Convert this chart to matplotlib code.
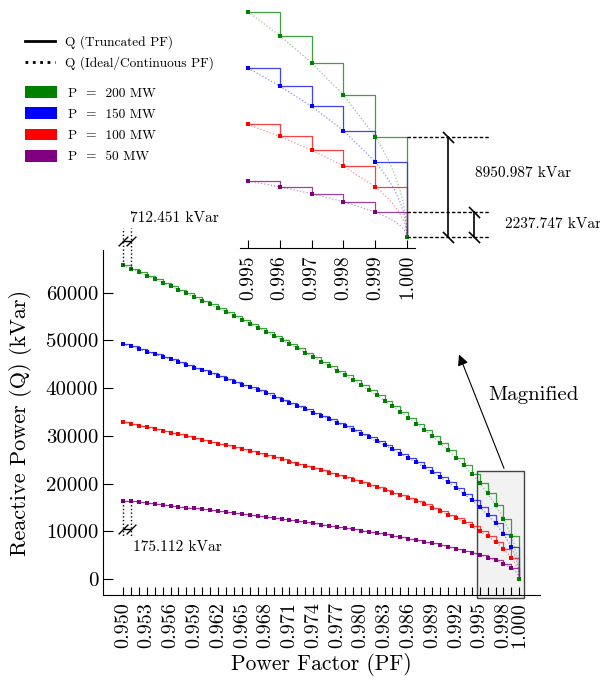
import matplotlib
matplotlib.use("Agg")
import matplotlib.pyplot as plt
from matplotlib.lines import Line2D
from matplotlib.patches import Patch, Rectangle
from matplotlib.path import Path

plt.rcParams["font.family"] = "serif"
plt.rcParams["font.serif"] = ["cmr10"]
plt.rcParams["mathtext.fontset"] = "cm"
plt.rcParams["axes.unicode_minus"] = False
plt.rcParams["axes.formatter.use_mathtext"] = True

# power factor steps
pf = [0.950, 0.951, 0.952, 0.953, 0.954, 0.955, 0.956, 0.957, 0.958, 0.959,
      0.960, 0.961, 0.962, 0.963, 0.964, 0.965, 0.966, 0.967, 0.968, 0.969,
      0.970, 0.971, 0.972, 0.973, 0.974, 0.975, 0.976, 0.977, 0.978, 0.979,
      0.980, 0.981, 0.982, 0.983, 0.984, 0.985, 0.986, 0.987, 0.988, 0.989,
      0.990, 0.991, 0.992, 0.993, 0.994, 0.995, 0.996, 0.997, 0.998, 0.999,
      1.000]

# reactive power in kVar for each real power level
q200 = [65736.8, 65024.4, 64306.3, 63582.4, 62852.5, 62116.4, 61373.8, 60624.4, 59868.1, 59104.5,
        58333.3, 57554.3, 56767.0, 55971.2, 55166.4, 54352.3, 53528.4, 52694.2, 51849.2, 50992.9,
        50124.7, 49244.0, 48350.0, 47442.0, 46519.1, 45580.5, 44625.1, 43651.9, 42659.5, 41646.6,
        40611.7, 39553.0, 38468.6, 37356.2, 36213.1, 35036.4, 33822.6, 32567.4, 31266.0, 29912.1,
        28498.5, 27015.5, 25451.2, 23789.4, 22008.1, 20075.4, 17942.4, 15526.9, 12668.1, 8951.0,
        0.0]
q150 = [49302.6, 48768.3, 48229.7, 47686.8, 47139.4, 46587.3, 46030.4, 45468.3, 44901.1, 44328.4,
        43750.0, 43165.7, 42575.3, 41978.4, 41374.8, 40764.2, 40146.3, 39520.7, 38886.9, 38244.7,
        37593.5, 36933.0, 36262.5, 35581.5, 34889.3, 34185.4, 33468.8, 32738.9, 31994.6, 31235.0,
        30458.8, 29664.8, 28851.5, 28017.2, 27159.8, 26277.3, 25367.0, 24425.6, 23449.5, 22434.1,
        21373.9, 20261.6, 19088.4, 17842.1, 16506.1, 15056.6, 13456.8, 11645.2, 9501.1, 6713.2,
        0.0]
q100 = [32868.4, 32512.2, 32153.2, 31791.2, 31426.3, 31058.2, 30686.9, 30312.2, 29934.1, 29552.3,
        29166.7, 28777.2, 28383.5, 27985.6, 27583.2, 27176.2, 26764.2, 26347.1, 25924.6, 25496.5,
        25062.4, 24622.0, 24175.0, 23721.0, 23259.6, 22790.3, 22312.6, 21826.0, 21329.8, 20823.3,
        20305.9, 19776.5, 19234.3, 18678.1, 18106.6, 17518.2, 16911.3, 16283.7, 15633.0, 14956.1,
        14249.3, 13507.8, 12725.6, 11894.7, 11004.1, 10037.7, 8971.2, 7763.5, 6334.1, 4475.5,
        0.0]
q50 = [16434.2, 16256.1, 16076.6, 15895.6, 15713.1, 15529.1, 15343.5, 15156.1, 14967.0, 14776.1,
       14583.3, 14388.6, 14191.8, 13992.8, 13791.6, 13588.1, 13382.1, 13173.6, 12962.3, 12748.2,
       12531.2, 12311.0, 12087.5, 11860.5, 11629.8, 11395.1, 11156.3, 10913.0, 10664.9, 10411.7,
       10153.0, 9888.3, 9617.2, 9339.1, 9053.3, 8759.1, 8455.7, 8141.9, 7816.5, 7478.0,
       7124.6, 6753.9, 6362.8, 5947.4, 5502.0, 5018.9, 4485.6, 3881.7, 3167.0, 2237.7,
       0.0]

# extra points on the continuous curve between 0.999 and 1.000
pf_tail = [0.9992, 0.9994, 0.9996, 0.9998, 0.9999, 0.99997]
q200_tail = [8004.8, 6931.3, 5658.6, 4000.6, 2828.6, 1549.2]
q150_tail = [6003.6, 5198.5, 4244.0, 3000.5, 2121.5, 1161.9]
q100_tail = [4002.4, 3465.7, 2829.3, 2000.3, 1414.3, 774.6]
q50_tail = [2001.2, 1732.8, 1414.7, 1000.2, 707.2, 387.3]

labels = ["P  =  200 MW", "P  =  150 MW", "P  =  100 MW", "P  =  50 MW"]
colors = ["green", "blue", "red", "purple"]
series = [(q50, q50_tail, "purple"), (q100, q100_tail, "red"),
          (q150, q150_tail, "blue"), (q200, q200_tail, "green")]

slash_fwd = Path([(-1, -1), (1, 1)], [Path.MOVETO, Path.LINETO])
slash_back = Path([(-1, 1), (1, -1)], [Path.MOVETO, Path.LINETO])


def draw_series(ax, q, qt, color, start=0):
    x_ideal = pf[start:-1] + pf_tail + pf[-1:]
    q_ideal = q[start:-1] + qt + q[-1:]
    ax.plot(x_ideal, q_ideal, linestyle=":", color=color, lw=0.9, alpha=0.45)
    ax.step(pf[start:], q[start:], where="post", color=color, lw=0.9, alpha=0.75)
    ax.plot(pf[start:], q[start:], "s", color=color, ms=2.4, mew=0, lw=0)


fig = plt.figure(figsize=(6, 6.86), dpi=100)

# main chart
ax = fig.add_axes([0.1717, 0.1327, 0.7283, 0.5029])
for q, qt, c in series:
    draw_series(ax, q, qt, c)
ax.set_xlim(0.94748, 1.00261)
ax.set_ylim(-3354, 68970)
ax.spines["top"].set_visible(False)
ax.spines["right"].set_visible(False)
ax.set_xticks(pf)
ax.set_xticklabels([f"{v:.3f}" if (i % 3 == 0 or i == len(pf) - 1) else "" for i, v in enumerate(pf)])
ax.set_yticks([0, 10000, 20000, 30000, 40000, 50000, 60000])
ax.set_yticklabels(["0", "10000", "20000", "30000", "40000", "50000", "60000"])
ax.tick_params(axis="x", direction="in", length=6, rotation=90, labelsize=14.5, pad=5)
ax.tick_params(axis="y", direction="in", length=7, labelsize=15)
ax.set_xlabel("Power Factor (PF)", fontsize=15.5)
ax.set_ylabel("Reactive Power (Q) (kVar)", fontsize=16, labelpad=10)

# step size at the start of the range
ax.plot([pf[0], pf[0]], [q200[0], 73600], ":", color="k", lw=1, clip_on=False)
ax.plot([pf[1], pf[1]], [q200[1], 73600], ":", color="k", lw=1, clip_on=False)
ax.plot([pf[0], pf[1]], [70860, 70860], "-", color="k", lw=1, marker=slash_fwd,
        ms=7, mew=1, clip_on=False)
ax.text(0.95088, 75680, "712.451 kVar", fontsize=11, va="center", ha="left")

ax.plot([pf[0], pf[0]], [q50[0], 8800], ":", color="k", lw=1, clip_on=False)
ax.plot([pf[1], pf[1]], [q50[1], 8800], ":", color="k", lw=1, clip_on=False)
ax.plot([pf[0], pf[1]], [10480, 10480], "-", color="k", lw=1, marker=slash_fwd,
        ms=7, mew=1, clip_on=False)
ax.text(0.95126, 6700, "175.112 kVar", fontsize=11, va="center", ha="left")

# zoomed region marker
box = Rectangle((0.99466, -3980), 1.00059 - 0.99466, 22640 + 3980,
                facecolor="#f2f2f2", edgecolor="#444444", lw=1, zorder=1, clip_on=False)
ax.add_patch(box)
ax.annotate("", xy=(0.99227, 47590), xytext=(0.99820, 22640),
            arrowprops=dict(arrowstyle="-|>", color="k", lw=0.8, mutation_scale=16))
ax.text(0.99605, 38570, "Magnified", fontsize=15, va="center", ha="left")

# inset
ax2 = fig.add_axes([0.4, 0.6385, 0.2917, 0.3542])
ax2.patch.set_alpha(0)
for q, qt, c in series:
    draw_series(ax2, q, qt, c, start=45)
ax2.set_xlim(0.99475, 1.00025)
ax2.set_ylim(-956, 20672)
for s in ["top", "right", "left"]:
    ax2.spines[s].set_visible(False)
ax2.set_yticks([])
ax2.set_xticks(pf[45:])
ax2.set_xticklabels([f"{v:.3f}" for v in pf[45:]])
ax2.tick_params(axis="x", direction="in", length=6, rotation=90, labelsize=14, pad=5)

for yv in [q200[-2], q50[-2], 0]:
    ax2.plot([1.000, 1.00261], [yv, yv], color="k", lw=1, linestyle=(0, (2.5, 1.5)),
             clip_on=False)
ax2.plot([1.00129, 1.00129], [0, q200[-2]], "-", color="k", lw=1.2, marker=slash_back,
         ms=8, mew=1.2, clip_on=False)
ax2.plot([1.00211, 1.00211], [0, q50[-2]], "-", color="k", lw=1.2, marker=slash_back,
         ms=8, mew=1.2, clip_on=False)
ax2.text(1.00212, 5696, "8950.987 kVar", fontsize=11, va="center", ha="left")
ax2.text(1.00307, 1157, "2237.747 kVar", fontsize=11, va="center", ha="left")

# legends
style_handles = [Line2D([], [], color="k", lw=2, linestyle="-"),
                 Line2D([], [], color="k", lw=2, linestyle=":")]
fig.legend(style_handles, ["Q (Truncated PF)", "Q (Ideal/Continuous PF)"],
           loc="upper left", bbox_to_anchor=(0.0417, 0.949), frameon=False,
           borderpad=0, borderaxespad=0, fontsize=9.6, handlelength=2.25,
           handletextpad=0.75, labelspacing=0.55)
power_handles = [Patch(facecolor=c, edgecolor="none") for c in colors]
fig.legend(power_handles, labels, loc="upper left", bbox_to_anchor=(0.0417, 0.8746),
           frameon=False, borderpad=0, borderaxespad=0, fontsize=9.6, handlelength=2.4,
           handleheight=1.0, handletextpad=0.8, labelspacing=0.58)

fig.savefig("out.png", dpi=100)
